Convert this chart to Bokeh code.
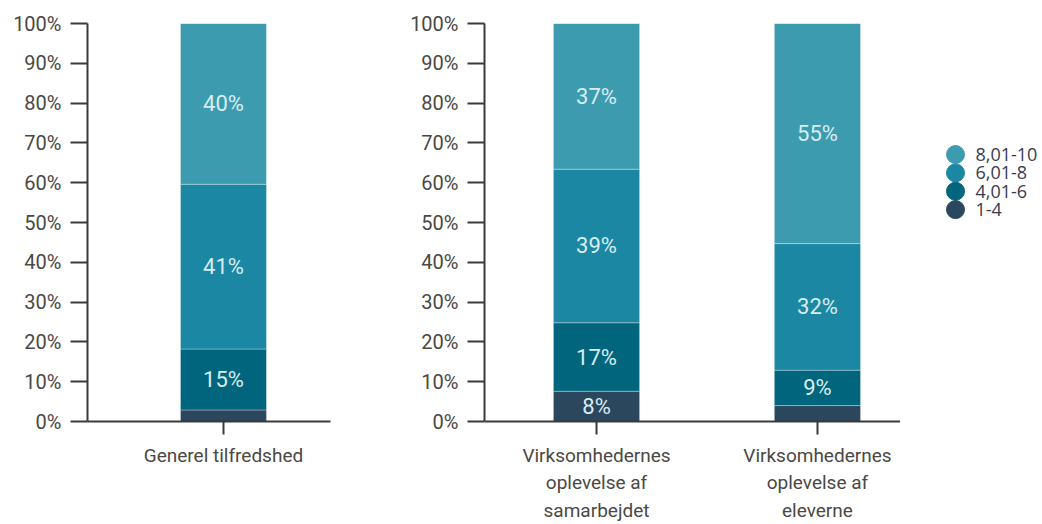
from bokeh.plotting import figure
from bokeh.layouts import row
from bokeh.models import (ColumnDataSource, Range1d, SingleIntervalTicker,
                          PrintfTickFormatter, FixedTicker)
from bokeh.core.properties import value
from bokeh.embed import file_html
from bokeh.resources import INLINE

# ---------------- data ----------------
bands = ["1-4", "4,01-6", "6,01-8", "8,01-10"]
band_colors = ["#2a475e", "#01657d", "#1b87a3", "#3d9bb0"]

cats1 = ["Generel tilfredshed"]
p1_1_4 = [2.9]
p1_4_6 = [15.3]
p1_6_8 = [41.4]
p1_8_10 = [40.4]

cats2 = ["Virksomhedernes\noplevelse af\nsamarbejdet",
         "Virksomhedernes\noplevelse af\neleverne"]
p2_1_4 = [7.6, 4.0]
p2_4_6 = [17.2, 8.9]
p2_6_8 = [38.6, 31.8]
p2_8_10 = [36.6, 55.3]

FONT = "Roboto"
AXIS_COLOR = "#3a3a3a"
TICK_COLOR = "#4b4845"
LABEL_COLOR = "#d6edf2"
H = 524


def make_panel(cats, series, width, xr, bar_width, border_left, border_right):
    xs = list(range(len(cats)))
    data = {"x": xs}
    for b, s in zip(bands, series):
        data[b] = s
    src = ColumnDataSource(data)

    p = figure(width=width, height=H, output_backend="svg", toolbar_location=None,
               x_range=Range1d(*xr), y_range=Range1d(0, 100),
               min_border_left=border_left, min_border_right=border_right,
               min_border_top=23, min_border_bottom=100)
    p.vbar_stack(bands, x="x", width=bar_width, source=src, color=band_colors,
                 line_color="#ffffff", line_alpha=0.3, line_width=1)

    # segment labels
    lx, ly, lt = [], [], []
    for i in xs:
        base = 0.0
        for s in series:
            v = s[i]
            if v >= 5:
                lx.append(i)
                ly.append(base + v / 2)
                lt.append(f"{round(v)}%")
            base += v
    p.text(x=lx, y=ly, text=lt, text_align="center", text_baseline="middle",
           text_font=value(FONT), text_font_size="22px", text_color=LABEL_COLOR)

    p.xgrid.visible = False
    p.ygrid.visible = False
    p.outline_line_color = None
    p.background_fill_color = None
    p.border_fill_color = None

    ya = p.yaxis[0]
    ya.ticker = SingleIntervalTicker(interval=10, num_minor_ticks=0)
    ya.formatter = PrintfTickFormatter(format="%d%%")
    ya.major_tick_out = 17
    ya.major_tick_in = 0
    ya.minor_tick_line_color = None
    ya.major_label_standoff = 9
    ya.axis_line_width = 2
    ya.axis_line_color = AXIS_COLOR
    ya.major_tick_line_width = 2
    ya.major_tick_line_color = AXIS_COLOR
    ya.major_label_text_font = FONT
    ya.major_label_text_font_size = "20px"
    ya.major_label_text_color = TICK_COLOR

    xa = p.xaxis[0]
    xa.ticker = FixedTicker(ticks=xs)
    xa.major_label_overrides = {i: c for i, c in zip(xs, cats)}
    xa.major_tick_out = 13
    xa.major_tick_in = 0
    xa.minor_tick_line_color = None
    xa.major_label_standoff = 9
    xa.axis_line_width = 2
    xa.axis_line_color = AXIS_COLOR
    xa.major_tick_line_width = 2
    xa.major_tick_line_color = AXIS_COLOR
    xa.major_label_text_font = FONT
    xa.major_label_text_font_size = "19px"
    xa.major_label_text_color = TICK_COLOR
    xa.major_label_text_line_height = 1.2
    return p


p1 = make_panel(cats1, [p1_1_4, p1_4_6, p1_6_8, p1_8_10], 400,
                (-0.949, 0.747), 0.6, 87, 70)
p2 = make_panel(cats2, [p2_1_4, p2_4_6, p2_6_8, p2_8_10], 500,
                (-0.507, 1.376), 0.39, 84, 0)

# ---------------- legend panel ----------------
leg_labels = bands[::-1]
leg_colors = band_colors[::-1]
leg_y = list(range(len(leg_labels)))
p3 = figure(width=142, height=H, output_backend="svg", toolbar_location=None,
            x_range=Range1d(-55, 87), y_range=Range1d(14.54, -7.135),
            min_border_left=0, min_border_right=0, min_border_top=23, min_border_bottom=100)
p3.scatter(x=[0] * len(leg_y), y=leg_y, size=18, color=leg_colors, marker="circle")
p3.text(x=[0] * len(leg_y), y=leg_y, text=leg_labels, x_offset=20,
        text_align="left", text_baseline="middle",
        text_font=value("Open Sans"), text_font_size="18px", text_color="#3a3a4e")
p3.axis.visible = False
p3.xgrid.visible = False
p3.ygrid.visible = False
p3.outline_line_color = None
p3.background_fill_color = None
p3.border_fill_color = None

layout = row(p1, p2, p3)
open("out.html", "w").write(file_html(layout, INLINE))
